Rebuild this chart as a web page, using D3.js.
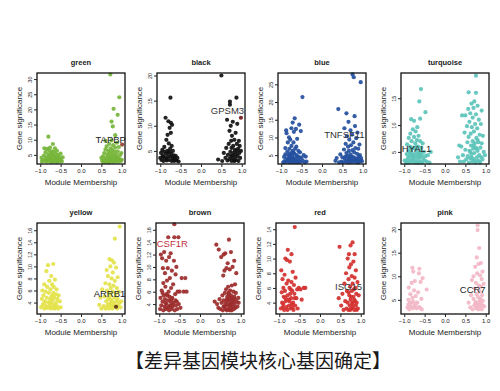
<!DOCTYPE html>
<html><head><meta charset="utf-8">
<script src="https://cdn.jsdelivr.net/npm/d3@7"></script>
<style>body{margin:0;background:#fff}svg{display:block}</style>
</head><body>
<svg id="c" width="500" height="391"></svg>
<script>
// ---------- DATA ----------
const moduleNames = ["green","black","blue","turquoise","yellow","brown","red","pink"];
const moduleColors = ["#76b53a","#111111","#234f9e","#5cc3ba","#e4e34c","#9c2b2b","#d3302f","#f2b7c7"];
const xTicks = [-1.0,-0.5,0.0,0.5,1.0];
const yTicksList = [
  [5,10,15,20,25,30],[5,10,15,20],[5,10,15,20,25],[5,10,15],
  [4,6,8,10,12,14,16],[4,6,8,10,12,14,16],[4,6,8,10,12,14],[5,10,15,20]
];
const yDomains = [[2,32],[2.4,20.5],[2.5,28.2],[2.75,19.7],[2.1,17.2],[2.4,17.1],[2.45,14.85],[2.0,21.3]];
const hubGenes = ["TAPBP","GPSM3","TNFSF11","HYAL1","ARRB1","CSF1R","ISG15","CCR7"];
const hubLabelX = [0.73,0.65,0.55,-0.7,0.70,-0.68,0.70,0.68];
const hubLabelY = [9.9,12.9,10.6,5.4,5.3,13.7,6.0,6.9];
const hubLabelColors = ["#222","#333","#333","#222","#222","#c0303f","#333","#222"];
const hubPoints = [[1.01,8.4],[0.98,11.6],null,null,[0.86,3.3],null,null,null];
const hubPointColors = ["#a0503e","#7a2a2a",null,null,"#6b4020",null,null,null];

const greenPts = [[-0.93,3.0],[-0.91,4.8],[-0.9,7.2],[-0.88,3.6],[-0.87,5.9],[-0.85,2.8],[-0.84,4.2],[-0.83,7.0],[-0.81,3.3],[-0.8,5.2],[-0.8,11.0],[-0.79,6.6],[-0.78,2.9],[-0.77,4.5],[-0.76,7.4],[-0.75,3.6],[-0.74,5.6],[-0.73,2.7],[-0.72,4.0],[-0.71,6.2],[-0.7,3.1],[-0.69,8.6],[-0.68,4.8],[-0.67,2.8],[-0.66,5.9],[-0.65,3.6],[-0.64,7.2],[-0.63,4.3],[-0.62,2.9],[-0.61,5.1],[-0.6,3.4],[-0.59,6.3],[-0.58,4.0],[-0.57,2.8],[-0.56,4.9],[-0.55,3.3],[-0.53,4.1],[-0.52,2.9],[-0.86,3.1],[-0.74,3.2],[-0.66,3.0],[-0.7,5.0],[-0.77,3.4],[-0.6,2.7],[-0.5,3.5],[-0.47,2.9],[-0.45,4.2],[-0.97,4.0],[-0.96,2.8],[-0.5,5.4],
[0.52,3.0],[0.54,4.5],[0.55,2.7],[0.57,5.6],[0.58,3.4],[0.6,9.6],[0.6,6.8],[0.61,2.9],[0.62,4.2],[0.63,7.8],[0.64,3.3],[0.65,5.2],[0.66,2.7],[0.67,6.3],[0.68,3.8],[0.69,8.6],[0.7,4.6],[0.7,2.9],[0.71,5.8],[0.72,31.5],[0.72,3.5],[0.73,7.2],[0.74,4.1],[0.75,16.0],[0.75,9.8],[0.75,2.8],[0.76,5.4],[0.77,6.6],[0.78,3.2],[0.78,14.4],[0.79,8.2],[0.8,20.2],[0.8,4.7],[0.81,2.7],[0.82,6.0],[0.83,3.6],[0.84,11.5],[0.84,7.4],[0.85,4.3],[0.86,2.9],[0.87,5.1],[0.88,9.0],[0.89,3.3],[0.9,18.2],[0.9,6.2],[0.91,4.0],[0.92,2.8],[0.93,7.6],[0.94,24.0],[0.95,3.6],[0.96,5.0],[0.98,3.0],[0.68,2.6],[0.62,3.2],[0.72,4.2],[0.8,3.5],[0.58,2.7],[0.87,3.9],[0.5,4.0],[1.0,3.4],[0.99,5.6]];
const blackPts = [[-0.98,4.6],[-0.97,3.2],[-0.95,5.2],[-0.94,4.0],[-0.92,3.0],[-0.9,4.8],[-0.9,5.8],[-0.88,3.6],[-0.87,11.6],[-0.86,4.4],[-0.85,7.2],[-0.84,3.1],[-0.83,5.0],[-0.82,8.2],[-0.81,3.8],[-0.8,10.9],[-0.8,4.6],[-0.79,6.5],[-0.78,3.2],[-0.77,9.6],[-0.76,5.4],[-0.75,15.6],[-0.75,3.9],[-0.74,10.6],[-0.74,8.6],[-0.73,4.4],[-0.72,6.0],[-0.72,3.0],[-0.71,10.2],[-0.7,3.6],[-0.69,5.0],[-0.68,3.3],[-0.67,4.1],[-0.66,3.0],[-0.65,3.6],[-0.63,3.2],[-0.62,4.0],[-0.6,3.1],[-0.85,3.4],[-0.93,3.8],[-0.78,4.8],[-1.0,3.6],[-0.58,3.6],[-0.55,2.9],
[0.42,3.3],[0.5,20.0],[0.52,3.0],[0.56,4.6],[0.6,3.6],[0.62,5.6],[0.64,11.2],[0.65,3.1],[0.66,4.2],[0.68,6.4],[0.7,9.0],[0.7,3.4],[0.71,14.2],[0.71,14.8],[0.72,4.8],[0.73,10.0],[0.74,7.0],[0.75,3.0],[0.75,5.6],[0.76,8.0],[0.77,4.1],[0.78,10.8],[0.78,3.5],[0.79,6.0],[0.8,4.6],[0.81,3.1],[0.82,7.2],[0.83,5.2],[0.84,3.8],[0.85,8.6],[0.86,4.4],[0.87,15.6],[0.87,3.2],[0.88,6.4],[0.89,10.4],[0.9,4.0],[0.91,5.4],[0.92,3.0],[0.93,7.0],[0.94,4.6],[0.95,6.0],[0.96,3.6],[0.98,5.0],[0.74,4.0],[0.82,3.0],[0.88,5.0]];
const bluePts = [[-0.95,3.0],[-0.93,4.5],[-0.92,3.3],[-0.9,7.0],[-0.9,5.2],[-0.88,12.0],[-0.88,3.1],[-0.87,11.2],[-0.86,4.0],[-0.85,6.0],[-0.84,8.6],[-0.83,3.4],[-0.82,5.0],[-0.81,10.0],[-0.8,3.0],[-0.8,6.8],[-0.79,4.4],[-0.78,9.4],[-0.77,3.6],[-0.76,5.6],[-0.75,12.6],[-0.75,7.6],[-0.74,3.1],[-0.73,4.8],[-0.72,14.2],[-0.72,6.2],[-0.71,3.5],[-0.7,8.6],[-0.7,4.2],[-0.69,11.6],[-0.68,5.4],[-0.68,3.0],[-0.67,15.4],[-0.66,6.8],[-0.65,4.0],[-0.64,12.4],[-0.64,3.3],[-0.63,7.4],[-0.62,5.0],[-0.61,9.6],[-0.6,3.0],[-0.6,4.6],[-0.58,6.2],[-0.57,3.6],[-0.56,13.6],[-0.55,4.4],[-0.54,5.8],[-0.53,3.1],[-0.52,11.8],[-0.5,4.2],[-0.48,21.4],[-0.47,3.4],[-0.45,5.0],[-0.42,3.0],[-0.82,3.8],[-0.74,4.0],[-0.66,3.4],[-0.58,3.2],[-0.7,5.8],[-0.78,5.2],[-0.38,3.2],[-0.4,4.6],
[0.33,3.4],[0.36,4.2],[0.42,3.0],[0.4,18.0],[0.45,5.2],[0.48,3.2],[0.5,4.4],[0.52,3.0],[0.54,6.6],[0.55,12.6],[0.56,4.0],[0.58,8.2],[0.59,3.3],[0.6,16.8],[0.6,5.6],[0.61,10.4],[0.62,3.0],[0.63,4.8],[0.64,7.4],[0.65,14.4],[0.65,3.6],[0.66,6.2],[0.67,9.4],[0.68,4.2],[0.69,3.0],[0.7,12.0],[0.7,5.2],[0.71,7.8],[0.72,3.4],[0.73,4.6],[0.74,10.8],[0.75,27.8],[0.75,6.4],[0.76,3.1],[0.77,8.6],[0.78,27.0],[0.78,4.4],[0.79,5.8],[0.8,16.0],[0.8,3.5],[0.81,13.2],[0.82,7.0],[0.83,4.0],[0.84,9.8],[0.85,3.0],[0.86,5.4],[0.87,11.4],[0.88,3.8],[0.89,6.8],[0.9,4.6],[0.91,3.2],[0.92,8.0],[0.93,5.0],[0.95,25.6],[0.95,3.6],[0.96,4.2],[0.98,3.3],[0.66,3.8],[0.72,4.0],[0.84,3.4],[0.58,4.6],[0.9,3.0]];
const turquoisePts = [[-0.96,3.2],[-0.94,4.6],[-0.93,6.4],[-0.92,3.6],[-0.9,5.2],[-0.89,7.6],[-0.88,3.0],[-0.87,4.2],[-0.86,6.0],[-0.85,8.4],[-0.84,3.4],[-0.83,11.1],[-0.83,5.0],[-0.82,7.0],[-0.81,3.1],[-0.8,4.4],[-0.79,9.2],[-0.78,5.8],[-0.77,3.5],[-0.76,10.8],[-0.76,7.8],[-0.75,4.6],[-0.74,3.0],[-0.73,6.6],[-0.72,8.8],[-0.72,4.0],[-0.71,5.4],[-0.7,3.3],[-0.69,7.2],[-0.68,9.6],[-0.68,4.8],[-0.67,3.0],[-0.66,6.0],[-0.65,8.0],[-0.64,3.8],[-0.63,14.4],[-0.63,5.2],[-0.62,4.2],[-0.61,11.2],[-0.61,7.0],[-0.6,3.2],[-0.59,16.7],[-0.58,5.8],[-0.57,4.4],[-0.56,3.0],[-0.55,6.6],[-0.54,3.8],[-0.52,5.0],[-0.5,3.4],[-0.48,12.4],[-0.48,4.2],[-0.45,3.2],[-0.9,4.0],[-0.8,3.8],[-0.74,5.6],[-0.66,4.4],[-0.7,6.0],[-0.84,5.6],[-0.78,4.2],[-0.6,4.8],[-0.94,3.0],[-0.86,4.8],[-0.64,3.0],[-0.99,3.4],[-0.42,4.4],[-0.38,3.0],[-0.35,5.0],
[0.32,4.0],[0.35,6.2],[0.37,3.2],[0.98,4.4],[0.4,6.0],[0.42,11.8],[0.44,4.4],[0.46,3.2],[0.48,8.6],[0.5,5.4],[0.5,11.8],[0.52,3.6],[0.54,9.8],[0.55,6.8],[0.56,4.2],[0.57,13.0],[0.58,16.1],[0.58,7.8],[0.59,3.0],[0.6,10.6],[0.6,5.2],[0.62,12.2],[0.62,3.8],[0.63,8.4],[0.64,6.2],[0.65,14.0],[0.65,4.6],[0.66,9.6],[0.67,3.2],[0.68,11.4],[0.68,7.0],[0.69,5.6],[0.7,13.2],[0.7,3.6],[0.71,8.8],[0.72,14.4],[0.72,4.8],[0.73,6.6],[0.74,10.2],[0.75,3.0],[0.75,5.8],[0.76,19.2],[0.76,16.0],[0.76,12.0],[0.77,7.6],[0.78,4.0],[0.79,9.4],[0.8,5.2],[0.8,13.6],[0.81,3.4],[0.82,6.8],[0.83,11.0],[0.84,4.4],[0.85,8.2],[0.86,3.0],[0.87,5.8],[0.88,10.2],[0.89,4.0],[0.9,12.7],[0.9,6.6],[0.92,3.6],[0.93,8.0],[0.95,5.0],[0.66,4.0],[0.72,3.4],[0.78,5.6],[0.84,3.2],[0.7,6.2],[0.62,5.0],[0.8,7.2]];
const yellowPts = [[-0.98,3.2],[-0.96,4.6],[-0.95,6.0],[-0.94,3.6],[-0.92,5.2],[-0.9,3.0],[-0.9,7.0],[-0.88,4.2],[-0.87,5.8],[-0.86,3.4],[-0.85,9.2],[-0.84,4.8],[-0.83,6.6],[-0.82,3.1],[-0.81,10.2],[-0.8,4.0],[-0.79,5.6],[-0.78,7.6],[-0.77,3.4],[-0.76,4.6],[-0.75,6.2],[-0.74,3.0],[-0.73,8.4],[-0.72,5.0],[-0.72,3.8],[-0.71,7.0],[-0.7,4.4],[-0.69,3.2],[-0.68,10.4],[-0.68,5.6],[-0.67,6.6],[-0.66,3.6],[-0.65,4.8],[-0.64,7.8],[-0.63,3.1],[-0.62,5.4],[-0.61,4.0],[-0.6,6.2],[-0.59,3.4],[-0.58,4.6],[-0.56,3.0],[-0.55,5.2],[-0.9,4.0],[-0.8,3.3],[-0.7,5.2],[-0.75,4.0],[-0.65,3.0],[-0.52,4.2],[-0.5,3.2],
[0.45,3.6],[0.48,4.8],[0.5,3.0],[0.52,6.2],[0.99,4.2],[0.56,3.4],[0.58,5.0],[0.6,3.0],[0.6,7.2],[0.62,4.2],[0.63,9.4],[0.64,6.0],[0.65,3.2],[0.66,8.4],[0.67,4.6],[0.68,5.6],[0.69,3.0],[0.7,7.0],[0.7,11.2],[0.71,3.8],[0.72,10.0],[0.72,5.2],[0.73,6.4],[0.74,3.4],[0.75,8.0],[0.75,4.4],[0.76,11.0],[0.77,3.0],[0.78,5.8],[0.78,9.0],[0.79,4.0],[0.8,6.8],[0.8,3.4],[0.81,10.6],[0.82,4.8],[0.83,14.6],[0.83,7.6],[0.84,3.2],[0.85,5.4],[0.86,9.8],[0.87,4.2],[0.88,6.4],[0.89,3.0],[0.9,8.2],[0.9,4.6],[0.92,3.6],[0.93,5.8],[0.95,16.6],[0.95,4.0],[0.97,3.2],[0.66,3.6],[0.74,4.0],[0.82,3.6],[0.7,4.8],[0.86,3.4]];
const brownPts = [[-0.98,3.2],[-0.97,5.0],[-0.96,12.0],[-0.95,3.8],[-0.94,6.2],[-0.93,11.4],[-0.92,4.4],[-0.91,9.8],[-0.9,3.0],[-0.9,7.4],[-0.89,5.4],[-0.88,12.4],[-0.87,3.6],[-0.86,4.8],[-0.86,9.0],[-0.85,6.8],[-0.84,3.2],[-0.83,11.0],[-0.82,5.6],[-0.82,4.0],[-0.81,7.8],[-0.8,3.4],[-0.79,9.8],[-0.78,14.8],[-0.78,4.6],[-0.77,6.0],[-0.76,3.0],[-0.76,11.6],[-0.75,5.2],[-0.74,8.2],[-0.73,3.8],[-0.72,12.2],[-0.72,4.4],[-0.71,6.6],[-0.7,3.2],[-0.69,9.4],[-0.68,5.0],[-0.67,3.6],[-0.66,7.2],[-0.65,4.2],[-0.64,11.0],[-0.63,16.9],[-0.63,14.8],[-0.62,3.0],[-0.61,5.6],[-0.6,8.8],[-0.59,3.8],[-0.58,10.0],[-0.57,4.4],[-0.56,3.2],[-0.55,6.0],[-0.53,14.8],[-0.52,4.0],[-0.5,6.0],[-0.48,3.4],[-0.45,8.2],[-0.4,6.0],[-0.36,8.2],[-0.33,6.0],[-0.85,4.2],[-0.75,3.6],[-0.68,4.0],[-0.8,5.4],[-0.7,4.8],[-0.92,5.8],[-0.6,4.6],
[0.36,4.4],[0.4,13.6],[0.42,4.0],[0.45,3.4],[0.46,12.8],[0.48,4.8],[0.5,3.2],[0.52,11.6],[0.53,4.2],[0.55,5.4],[0.56,3.0],[0.57,8.6],[0.58,12.0],[0.58,4.6],[0.6,3.6],[0.6,9.4],[0.61,5.8],[0.62,12.2],[0.62,4.0],[0.63,3.2],[0.64,6.4],[0.65,9.8],[0.65,4.4],[0.66,3.0],[0.67,5.2],[0.68,10.6],[0.68,3.8],[0.69,6.8],[0.7,4.6],[0.7,3.2],[0.71,14.4],[0.71,5.6],[0.72,4.0],[0.73,3.0],[0.73,9.6],[0.74,6.2],[0.75,4.8],[0.75,3.4],[0.76,12.4],[0.76,5.4],[0.77,4.2],[0.78,3.0],[0.78,7.0],[0.79,5.0],[0.8,3.6],[0.8,10.0],[0.81,4.6],[0.82,6.0],[0.83,3.2],[0.84,11.0],[0.84,5.2],[0.85,4.0],[0.86,7.2],[0.87,3.4],[0.88,5.8],[0.89,9.0],[0.9,4.4],[0.92,3.6],[0.94,5.0],[0.95,4.2],[0.66,4.8],[0.72,5.0],[0.74,3.8],[0.8,4.2],[0.86,4.8],[0.58,3.6],[0.7,5.8]];
const redPts = [[-0.96,3.2],[-0.95,8.4],[-0.94,5.4],[-0.93,4.0],[-0.92,7.2],[-0.91,3.4],[-0.9,6.0],[-0.89,4.8],[-0.88,3.0],[-0.87,7.8],[-0.86,5.6],[-0.85,10.0],[-0.84,4.2],[-0.83,3.4],[-0.82,6.6],[-0.81,9.8],[-0.8,5.0],[-0.8,3.0],[-0.79,11.2],[-0.78,7.0],[-0.77,4.4],[-0.76,3.6],[-0.75,6.0],[-0.74,9.6],[-0.73,5.2],[-0.72,3.2],[-0.71,4.6],[-0.7,10.6],[-0.7,6.8],[-0.69,3.8],[-0.68,5.6],[-0.67,8.2],[-0.66,4.0],[-0.65,3.0],[-0.64,6.4],[-0.63,5.2],[-0.62,14.3],[-0.61,3.6],[-0.6,7.4],[-0.58,4.6],[-0.56,5.8],[-0.55,3.2],[-0.52,6.0],[-0.48,5.8],[-0.45,4.4],[-0.4,6.0],[-0.36,6.0],[-0.85,4.6],[-0.75,4.2],[-0.68,3.4],[-0.9,3.8],[-0.72,5.8],[-0.62,4.6],
[0.46,4.6],[0.48,11.6],[0.52,3.6],[0.55,5.2],[0.58,3.0],[0.6,6.6],[0.62,4.2],[0.64,8.0],[0.65,3.2],[0.66,5.6],[0.68,10.0],[0.68,4.0],[0.7,7.2],[0.7,3.0],[0.71,10.6],[0.72,5.0],[0.72,8.8],[0.73,3.6],[0.74,6.2],[0.75,4.4],[0.75,11.8],[0.76,9.2],[0.77,3.2],[0.78,5.6],[0.78,7.6],[0.79,4.0],[0.8,12.2],[0.8,6.6],[0.81,3.4],[0.82,4.8],[0.82,9.6],[0.83,5.8],[0.84,3.0],[0.85,7.4],[0.85,10.6],[0.86,4.2],[0.87,6.0],[0.88,3.6],[0.88,8.4],[0.89,5.2],[0.9,4.0],[0.92,6.8],[0.93,3.2],[0.95,5.0],[0.7,5.4],[0.76,4.8],[0.84,4.4],[0.8,3.8],[0.74,3.0],[0.9,3.0]];
const pinkPts = [[-0.92,3.4],[-0.9,5.0],[-0.89,7.6],[-0.88,3.0],[-0.86,4.4],[-0.85,6.2],[-0.84,3.6],[-0.82,8.6],[-0.8,11.8],[-0.8,5.4],[-0.79,3.2],[-0.78,11.0],[-0.77,4.6],[-0.76,7.0],[-0.75,3.6],[-0.74,9.0],[-0.72,5.8],[-0.7,3.2],[-0.68,4.4],[-0.66,6.6],[-0.64,10.6],[-0.63,11.6],[-0.62,3.4],[-0.6,8.8],[-0.58,5.2],[-0.57,3.0],[-0.55,9.6],[-0.45,7.2],[-0.9,4.0],[-0.82,4.4],[-0.73,4.0],[-0.65,3.4],
[0.58,4.4],[0.62,3.4],[0.64,6.0],[0.66,9.2],[0.68,3.0],[0.7,5.2],[0.7,10.0],[0.72,3.8],[0.73,7.4],[0.74,12.0],[0.75,4.6],[0.76,8.6],[0.77,3.2],[0.78,6.2],[0.78,14.0],[0.79,10.6],[0.8,4.0],[0.8,20.8],[0.8,19.8],[0.81,5.6],[0.82,12.6],[0.82,3.0],[0.83,8.0],[0.84,16.0],[0.84,4.6],[0.85,6.8],[0.86,10.2],[0.86,3.6],[0.87,5.2],[0.88,12.8],[0.88,7.8],[0.89,4.2],[0.9,9.4],[0.9,3.0],[0.91,6.0],[0.92,11.0],[0.93,4.8],[0.95,8.4],[0.96,3.6],[0.74,4.2],[0.82,4.0],[0.86,5.0],[0.78,3.4],[0.92,3.8]];
const modulePoints = [greenPts,blackPts,bluePts,turquoisePts,yellowPts,brownPts,redPts,pinkPts];
const xLabel = "Module Membership";
const yLabel = "Gene significance";
const caption = "【差异基因模块核心基因确定】";

// ---------- LAYOUT ----------
const svg = d3.select("#c");
const boxLefts = [37,157,278,401, 37,156,276,401];
const boxTops = [73,73,73,73, 223,223,223,223];
const boxW = 88, boxH = 91;
const font = "'Liberation Sans', Arial, sans-serif";

moduleNames.forEach((name,i)=>{
  const L = boxLefts[i], T = boxTops[i];
  const x = d3.scaleLinear().domain([-1.08,1.08]).range([L, L+boxW]);
  const y = d3.scaleLinear().domain(yDomains[i]).range([T+boxH, T]);
  const g = svg.append("g");

  g.append("g").selectAll("circle").data(modulePoints[i]).join("circle")
    .attr("cx",d=>x(d[0])).attr("cy",d=>y(d[1])).attr("r",2.1)
    .attr("fill",moduleColors[i]).attr("fill-opacity",0.92);
  if (hubPoints[i]) {
    g.append("circle").attr("cx",x(hubPoints[i][0])).attr("cy",y(hubPoints[i][1]))
      .attr("r",2.1).attr("fill",hubPointColors[i]);
  }
  g.append("text").attr("x",x(hubLabelX[i])).attr("y",y(hubLabelY[i]))
    .attr("text-anchor","middle").attr("dominant-baseline","middle")
    .attr("font-family",font).attr("font-size",9.5).attr("fill",hubLabelColors[i])
    .text(hubGenes[i]);

  g.append("rect").attr("x",L).attr("y",T).attr("width",boxW).attr("height",boxH)
    .attr("fill","none").attr("stroke","#111").attr("stroke-width",1.3);

  const xa = g.append("g").attr("transform",`translate(0,${T+boxH})`)
    .call(d3.axisBottom(x).tickValues(xTicks).tickSize(3).tickPadding(2).tickFormat(d3.format(".1f")));
  xa.select(".domain").remove();
  xa.selectAll("text").attr("font-size",6).attr("font-family",font).attr("fill","#222");
  xa.selectAll("line").attr("stroke","#222");

  const ya = g.append("g").attr("transform",`translate(${L},0)`)
    .call(d3.axisLeft(y).tickValues(yTicksList[i]).tickSize(3).tickFormat(d3.format("d")));
  ya.select(".domain").remove();
  ya.selectAll("line").attr("stroke","#222");
  ya.selectAll("text").attr("font-size",5.5).attr("font-family",font).attr("fill","#222")
    .attr("text-anchor","middle").attr("x",0).attr("dy",0)
    .attr("transform","translate(-5,0) rotate(-90)");

  g.append("text").attr("x",L+boxW/2).attr("y",T-8).attr("text-anchor","middle")
    .attr("font-family",font).attr("font-weight","bold").attr("font-size",7.5).attr("fill","#222")
    .text(name);
  g.append("text").attr("x",L+boxW/2).attr("y",T+boxH+21).attr("text-anchor","middle")
    .attr("font-family",font).attr("font-size",8).attr("fill","#222").text(xLabel);
  g.append("text").attr("transform",`translate(${L-15.5},${T+boxH/2}) rotate(-90)`)
    .attr("text-anchor","middle").attr("font-family",font).attr("font-size",8).attr("fill","#222")
    .text(yLabel);
});

svg.append("text").attr("x",258).attr("y",367.5).attr("text-anchor","middle")
  .attr("font-family","'Noto Sans CJK SC', sans-serif").attr("font-size",19).attr("fill","#1a1a1a")
  .text(caption);
</script>
</body></html>
